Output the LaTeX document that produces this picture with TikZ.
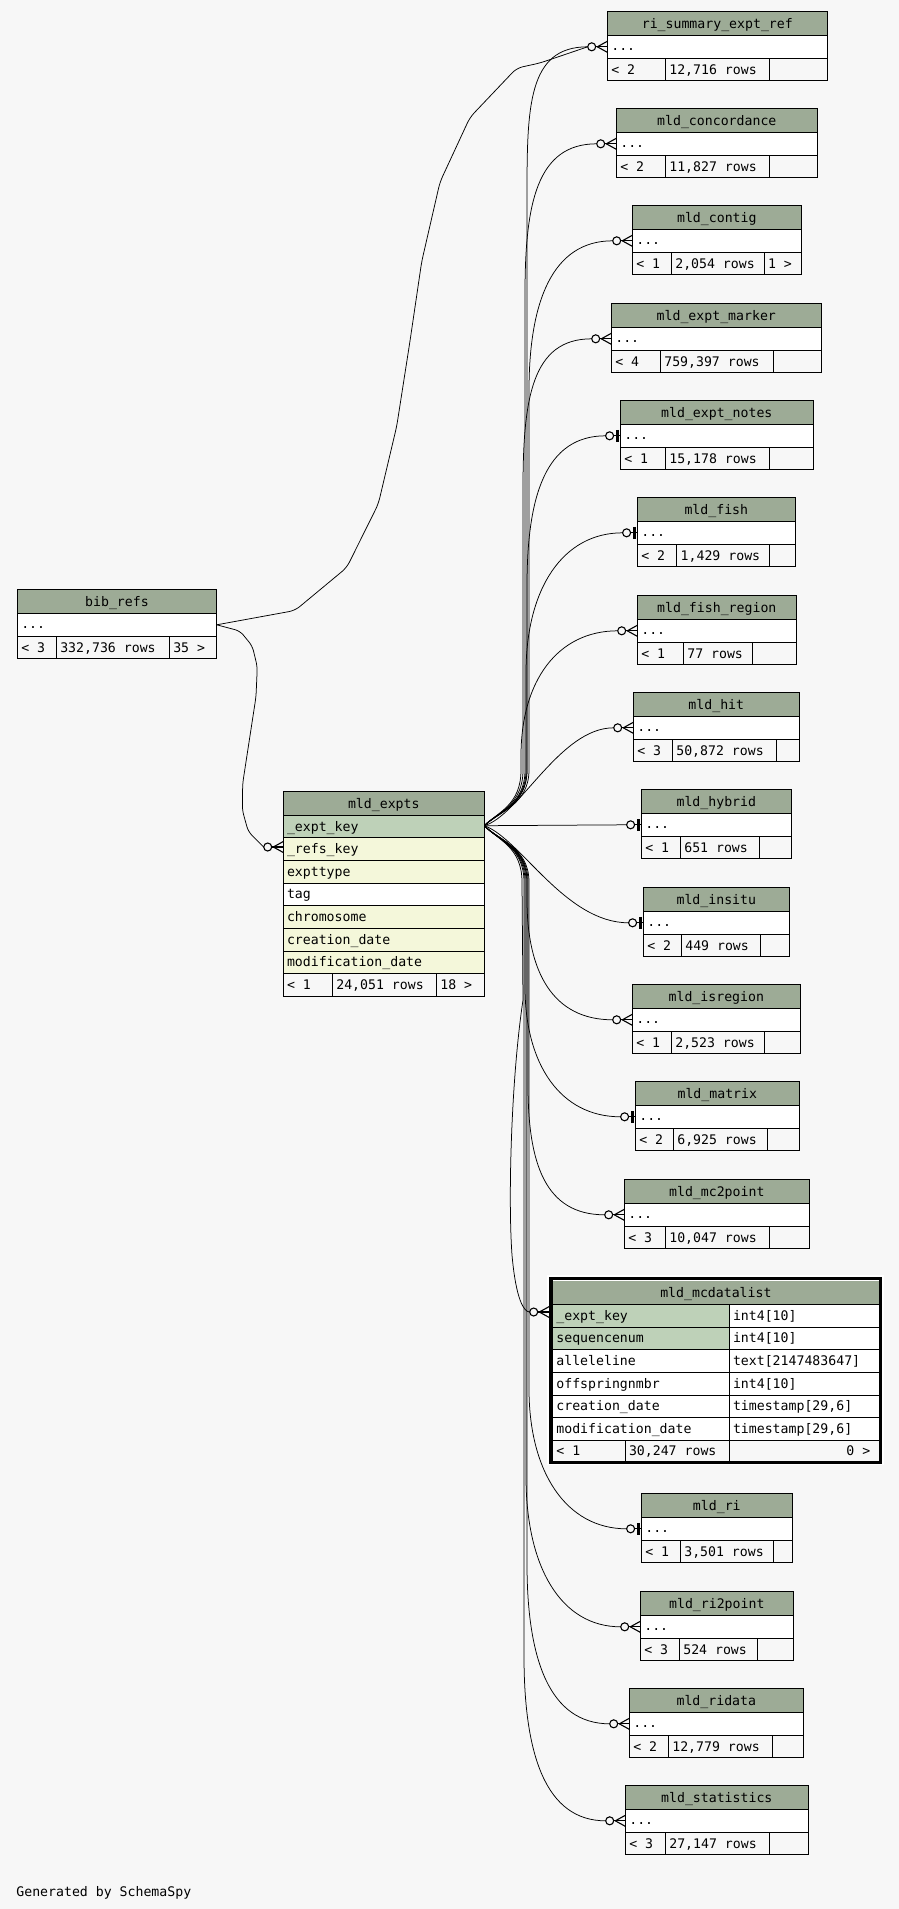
\documentclass[tikz,border=0pt]{standalone}
\usepackage{fontspec}
\newfontfamily\schemafont{DejaVu Sans Mono}
\usetikzlibrary{calc}
\definecolor{pagebg}{HTML}{F7F7F7}
\definecolor{hdr}{HTML}{9DAB96}
\definecolor{pkcol}{HTML}{BED1B8}
\definecolor{idxcol}{HTML}{F4F7DA}
\tikzset{
  cell/.style={draw=black, line width=0.9pt},
  txt/.style={inner sep=0pt, font=\schemafont\fontsize{13.2}{15}\selectfont, text=black},
  conn/.style={draw=black, line width=0.75pt},
  endmark/.style={draw=black, line width=1.1pt},
  barmk/.style={draw=black, line width=2.6pt},
}
% simple table: name (x1,y1,x2) [div1,div2] title count rows
\def\tbl#1(#2,#3,#4)[#5,#6]#7#8#9{%
  \fill[hdr] (#2,#3) rectangle (#4,#3+24);
  \fill[white] (#2,#3+24) rectangle (#4,#3+47);
  \fill[pagebg] (#2,#3+47) rectangle (#4,#3+69.5);
  \draw[cell] (#2,#3+24) -- (#4,#3+24) (#2,#3+47) -- (#4,#3+47)
     (#5,#3+47) -- (#5,#3+69.5) (#6,#3+47) -- (#6,#3+69.5);
  \draw[cell] (#2,#3) rectangle (#4,#3+69.5);
  \node[txt,anchor=base] (#1-title) at ({(#2+#4)/2},#3+16.7) {#7};
  \node[txt,anchor=base west] (#1-row) at (#2+3.8,#3+39.2) {...};
  \node[txt,anchor=base west] (#1-fl) at (#2+3.8,#3+62.8) {< #8};
  \node[txt,anchor=base west] (#1-fm) at (#5+3.8,#3+62.8) {#9};
  \coordinate (#1-in) at (#2,#3+35.5);
}
\def\crowmark#1{%
  \draw[endmark] ($(#1-in)+(-15.6,0)$) circle[radius=4pt];
  \draw[endmark] ($(#1-in)+(-11.6,0)$) -- (#1-in);
  \draw[endmark] ($(#1-in)+(-10,0)$) -- ($(#1-in)+(0,-5.5)$);
  \draw[endmark] ($(#1-in)+(-10,0)$) -- ($(#1-in)+(0,5.5)$);
  \coordinate (#1-end) at ($(#1-in)+(-19.6,0)$);
}
\def\barmark#1{%
  \draw[endmark] ($(#1-in)+(-10.7,0)$) circle[radius=4pt];
  \draw[endmark] ($(#1-in)+(-6.7,0)$) -- (#1-in);
  \draw[barmk] ($(#1-in)+(-3,-6)$) -- ($(#1-in)+(-3,6)$);
  \coordinate (#1-end) at ($(#1-in)+(-14.7,0)$);
}
% edges from mld_expts._expt_key: name, bundle x, target y, peel height, end x
\def\upedge#1#2#3#4#5{%
  \draw[conn] (expts-key) .. controls (498,812) and (#2,805) .. (#2,770)
    -- (#2,#3+#4) .. controls (#2,#3+0.4*#4) and (#5-60,#3) .. (#1-end);
}
\def\downedge#1#2#3#4#5{%
  \draw[conn] (expts-key) .. controls (498,840) and (#2,847) .. (#2,882)
    -- (#2,#3-#4) .. controls (#2,#3-0.4*#4) and (#5-60,#3) .. (#1-end);
}
\begin{document}
\begin{tikzpicture}[x=1pt,y=-1pt]
\useasboundingbox (0,0) rectangle (899,1909);
\fill[pagebg] (0,0) rectangle (899,1909);

% ---------- simple tables ----------
\tbl{risum}(607.3,11.3,827.3)[665.3,769.3]{ri\_summary\_expt\_ref}{2}{12,716 rows}
\tbl{conc}(616.3,108.3,817.3)[665.3,769.3]{mld\_concordance}{2}{11,827 rows}
\tbl{contig}(632.3,205.3,801.3)[671.3,764.3]{mld\_contig}{1}{2,054 rows}
\node[txt,anchor=base west] (contig-fr) at (767.8,268.1) {1 >};
\tbl{emarker}(611.3,303.3,821.3)[660.3,773.3]{mld\_expt\_marker}{4}{759,397 rows}
\tbl{enotes}(620.3,400.3,813.3)[665.3,769.3]{mld\_expt\_notes}{1}{15,178 rows}
\tbl{fish}(637.3,497.3,795.3)[676.7,769.3]{mld\_fish}{2}{1,429 rows}
\tbl{fishreg}(637.3,595.3,796.3)[683.3,752.3]{mld\_fish\_region}{1}{77 rows}
\tbl{hit}(633.3,692.3,799.3)[672.3,776.3]{mld\_hit}{3}{50,872 rows}
\tbl{hybrid}(641.3,789.3,791.3)[680.3,759.3]{mld\_hybrid}{1}{651 rows}
\tbl{insitu}(643.3,887.3,789.3)[681.3,760.3]{mld\_insitu}{2}{449 rows}
\tbl{isregion}(632.3,984.3,800.3)[671.3,764.3]{mld\_isregion}{1}{2,523 rows}
\tbl{matrix}(635.3,1081.3,799.3)[673.3,767.3]{mld\_matrix}{2}{6,925 rows}
\tbl{mctwo}(624.3,1179.3,809.3)[665.3,769.3]{mld\_mc2point}{3}{10,047 rows}
\tbl{ri}(641.3,1493.3,792.3)[680.3,773.3]{mld\_ri}{1}{3,501 rows}
\tbl{ritwo}(640.3,1591.3,793.3)[679.3,757.3]{mld\_ri2point}{3}{524 rows}
\tbl{ridata}(629.3,1688.3,803.3)[668.3,772.3]{mld\_ridata}{2}{12,779 rows}
\tbl{stats}(625.3,1785.3,808.3)[665.3,769.3]{mld\_statistics}{3}{27,147 rows}

% ---------- bib_refs ----------
\tbl{bib}(17.3,589.3,216.7)[56.3,169.3]{bib\_refs}{3}{332,736 rows}
\node[txt,anchor=base west] (bib-fr) at (173.1,652.1) {35 >};
\coordinate (bib-out) at (216.7,624.8);

% ---------- mld_expts ----------
\fill[hdr] (283.3,791.3) rectangle (484.3,815.7);
\node[txt,anchor=base] (expts-title) at (383.8,808.2) {mld\_expts};
\foreach \top/\bot/\col/\lab [count=\n] in {815.7/837.3/pkcol/\_expt\_key, 837.3/860.3/idxcol/\_refs\_key, 860.3/883/idxcol/expttype, 883/905.7/white/tag, 905.7/928.3/idxcol/chromosome, 928.3/951/idxcol/creation\_date, 951/973.7/idxcol/modification\_date}{
  \fill[\col] (283.3,\top) rectangle (484.3,\bot);
  \draw[cell] (283.3,\top) -- (484.3,\top);
  \node[txt,anchor=base west] (expts-r\n) at (286.8,{(\top+\bot)/2+4.5}) {\lab};
}
\fill[pagebg] (283.3,973.7) rectangle (484.3,996.3);
\draw[cell] (283.3,973.7) -- (484.3,973.7) (332.3,973.7) -- (332.3,996.3) (436.3,973.7) -- (436.3,996.3);
\draw[cell] (283.3,791.3) rectangle (484.3,996.3);
\node[txt,anchor=base west] (expts-fl) at (286.8,989.5) {< 1};
\node[txt,anchor=base west] (expts-fm) at (336.1,989.5) {24,051 rows};
\node[txt,anchor=base west] (expts-fr) at (440.1,989.5) {18 >};
\coordinate (expts-key) at (484.3,825.7);
\coordinate (exref-in) at (283.3,847);

% ---------- mld_mcdatalist ----------
\fill[white] (547.3,1274.5) rectangle (883.5,1465);
\fill[hdr] (552.7,1280.5) rectangle (879,1304.3);
\fill[pkcol] (552.7,1304.3) rectangle (729.3,1349.3);
\fill[white] (552.7,1349.3) rectangle (729.3,1440);
\fill[white] (729.3,1304.3) rectangle (879,1440);
\fill[pagebg] (552.7,1440) rectangle (879,1461);
\foreach \yy in {1304.3,1327,1349.3,1372,1395,1417.3,1440}{
  \draw[cell] (552.7,\yy) -- (879,\yy);
}
\draw[cell] (729.3,1304.3) -- (729.3,1461) (625.3,1440) -- (625.3,1461);
\draw[line width=3.4pt] (551,1278.7) rectangle (880.7,1462.6);
\node[txt,anchor=base] (mcdl-title) at (715.9,1297.7) {mld\_mcdatalist};
\foreach \cy/\na/\ty [count=\n] in {1315.65/\_expt\_key/int4[10], 1338.15/sequencenum/int4[10], 1360.65/alleleline/text[2147483647], 1383.5/offspringnmbr/int4[10], 1406.15/creation\_date/timestamp[29{,}6], 1428.65/modification\_date/timestamp[29{,}6]}{
  \node[txt,anchor=base west] (mcdl-n\n) at (556.2,\cy+4.5) {\na};
  \node[txt,anchor=base west] (mcdl-t\n) at (732.8,\cy+4.5) {\ty};
}
\node[txt,anchor=base west] (mcdl-fl) at (556.2,1455) {< 1};
\node[txt,anchor=base west] (mcdl-fm) at (628.8,1455) {30,247 rows};
\node[txt,anchor=base east] (mcdl-fr) at (870.5,1455) {0 >};
\coordinate (mcdl-in) at (549.3,1312);

% ---------- end markers ----------
\crowmark{risum}
\crowmark{conc}
\crowmark{contig}
\crowmark{emarker}
\barmark{enotes}
\barmark{fish}
\crowmark{fishreg}
\crowmark{hit}
\barmark{hybrid}
\barmark{insitu}
\crowmark{isregion}
\barmark{matrix}
\crowmark{mctwo}
\crowmark{mcdl}
\barmark{ri}
\crowmark{ritwo}
\crowmark{ridata}
\crowmark{stats}
\crowmark{exref}

% ---------- connectors ----------
\upedge{risum}{527}{46.8}{150}{587.7}
\upedge{conc}{525}{143.8}{150}{596.7}
\upedge{contig}{529}{240.8}{150}{612.7}
\upedge{emarker}{523}{338.8}{150}{591.7}
\upedge{enotes}{527}{435.8}{150}{605.6}
\upedge{fish}{526}{532.8}{140}{622.6}
\upedge{fishreg}{521}{630.8}{125}{617.7}
\draw[conn] (expts-key) .. controls (520,815) and (560,727.8) .. (hit-end);
\draw[conn] (expts-key) -- (hybrid-end);
\draw[conn] (expts-key) .. controls (520,838) and (565,922.8) .. (insitu-end);
\downedge{isregion}{527}{1019.8}{120}{612.7}
\downedge{matrix}{525}{1116.8}{130}{620.6}
\downedge{mctwo}{528}{1214.8}{130}{604.7}
\draw[conn] (expts-key) .. controls (498,840) and (522,847) .. (522,882)
  -- (523,1000) .. controls (511,1080) and (508,1200) .. (512,1255)
  .. controls (516,1300) and (524,1312) .. (mcdl-end);
\downedge{ri}{529}{1528.8}{140}{626.6}
\downedge{ritwo}{526}{1626.8}{150}{620.7}
\downedge{ridata}{527}{1723.8}{160}{609.7}
\downedge{stats}{524}{1820.8}{165}{605.7}

\draw[conn, rounded corners=6pt] (bib-out) -- (295,610.5) -- (346.7,567.6) -- (378.3,504)
  -- (396.7,426.3) -- (410,341) -- (421.7,261.6) -- (440,182) -- (470,117.3)
  -- (516.7,68.1) -- (540,63) -- (risum-end);
\draw[conn, rounded corners=5pt] (bib-out) -- (240,631) -- (252.3,646) -- (257.3,666.7)
  -- (256,696.7) -- (242.7,783.3) -- (242.3,810) -- (248.3,831.7) -- (exref-end);

\node[txt,anchor=base west] (gen) at (16.2,1896) {Generated by SchemaSpy};
\end{tikzpicture}
\end{document}
